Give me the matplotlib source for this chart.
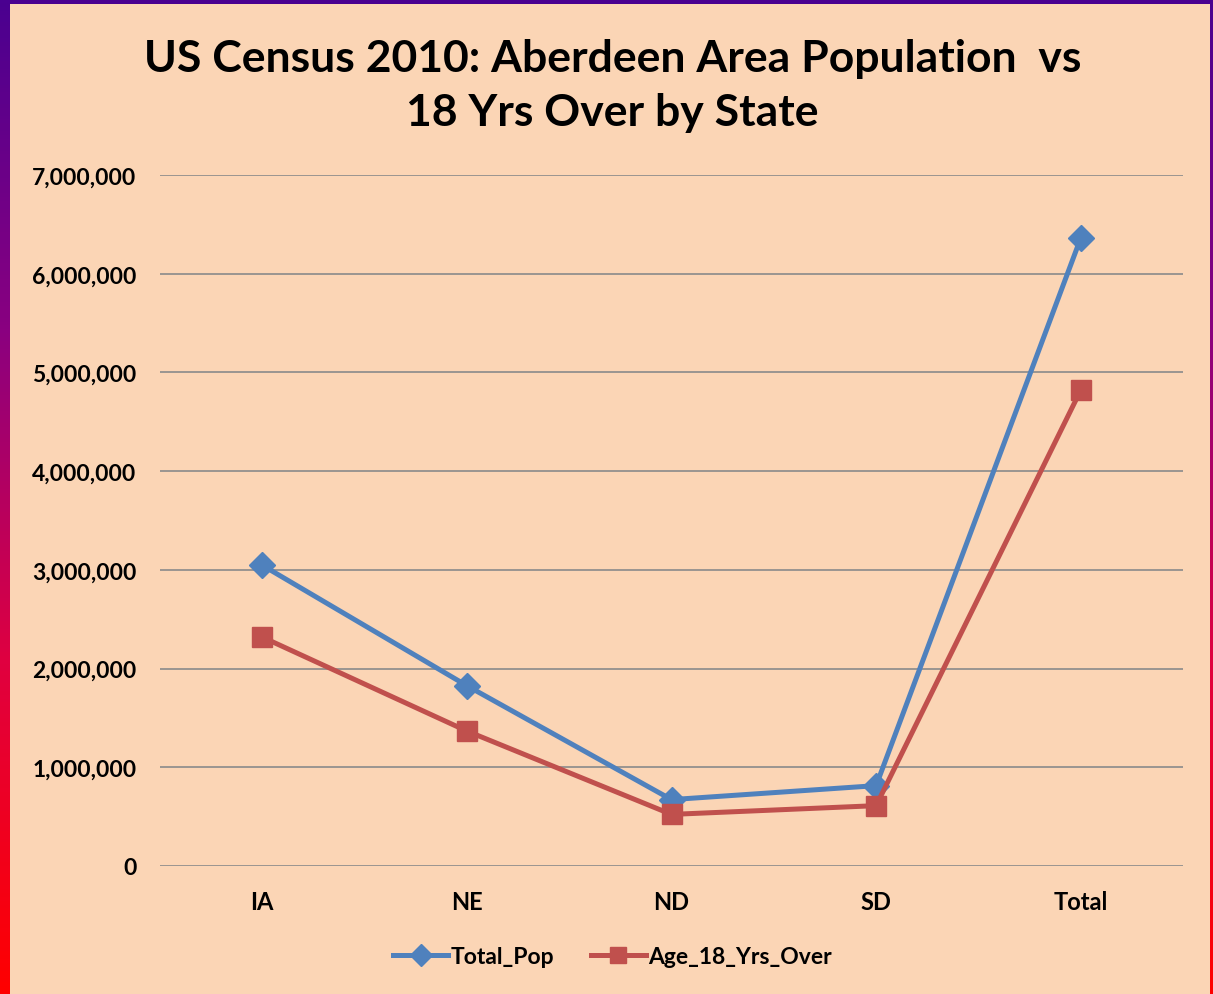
import numpy as np
import matplotlib
matplotlib.use("Agg")
import matplotlib.pyplot as plt
from matplotlib.colors import LinearSegmentedColormap
from matplotlib.patches import Rectangle
from matplotlib.lines import Line2D
from matplotlib.ticker import FuncFormatter

plt.rcParams['font.family'] = ['Lato', 'DejaVu Sans']
plt.rcParams['font.weight'] = 'bold'

# data (US Census 2010)
states = ['IA', 'NE', 'ND', 'SD', 'Total']
total_pop = [3046355, 1826341, 672591, 814180, 6359467]
age_18_over = [2318362, 1367120, 522720, 611383, 4819585]
yticks = [0, 1000000, 2000000, 3000000, 4000000, 5000000, 6000000, 7000000]

W, H = 1213, 995
fig = plt.figure(figsize=(W / 100, H / 100), dpi=100)

# gradient frame + peach panel
bg = fig.add_axes([0, 0, 1, 1])
bg.set_xlim(0, W)
bg.set_ylim(H, 0)
bg.axis('off')
cmap = LinearSegmentedColormap.from_list('frame', ['#4a0090', '#8a0080', '#e00040', '#ff0000'])
grad = np.linspace(0, 1, 256).reshape(-1, 1)
bg.imshow(grad, cmap=cmap, aspect='auto', extent=[0, W, H, 0])
bg.add_patch(Rectangle((10, 5), 1200, H, facecolor='#fbd5b5', edgecolor='none'))

ax = fig.add_axes([160 / W, 128 / H, (1183 - 160) / W, (867 - 176) / H])
ax.set_facecolor('none')
x = np.arange(len(states))
ax.plot(x, total_pop, color='#4f81bd', lw=3.6, marker='D', ms=13,
        markeredgecolor='#4f81bd', zorder=3)
ax.plot(x, age_18_over, color='#c0504d', lw=3.6, marker='s', ms=14,
        markeredgecolor='#c0504d', zorder=3)

ax.set_xlim(-0.5, len(states) - 0.5)
ax.set_ylim(0, 7000000)
ax.set_yticks(yticks)
ax.yaxis.set_major_formatter(FuncFormatter(lambda v, p: f'{int(v):,}'))
ax.set_xticks(x)
ax.set_xticklabels(states)
ax.grid(axis='y', color='#8a8a8a', lw=1.2)
ax.set_axisbelow(True)
for s in ax.spines.values():
    s.set_visible(False)
ax.tick_params(length=0)
ax.tick_params(axis='y', pad=17, labelsize=16.5)
ax.tick_params(axis='x', pad=17, labelsize=17)
for t in ax.get_xticklabels() + ax.get_yticklabels():
    t.set_fontweight('bold')

fig.text(0.505, 1 - 86 / H, 'US Census 2010: Aberdeen Area Population  vs\n18 Yrs Over by State',
         ha='center', va='center', fontsize=32, fontweight='bold', linespacing=1.4)

handles = [Line2D([], [], color='#4f81bd', lw=3.6, marker='D', ms=11),
           Line2D([], [], color='#c0504d', lw=3.6, marker='s', ms=11)]
fig.legend(handles, ['Total_Pop', 'Age_18_Yrs_Over'], loc='center',
           bbox_to_anchor=(0.505, 1 - 958 / H), ncol=2, frameon=False,
           prop={'size': 16.5, 'weight': 'bold'}, handlelength=2.4,
           handletextpad=0.1, columnspacing=1.6)

fig.savefig('out.png', dpi=100)
